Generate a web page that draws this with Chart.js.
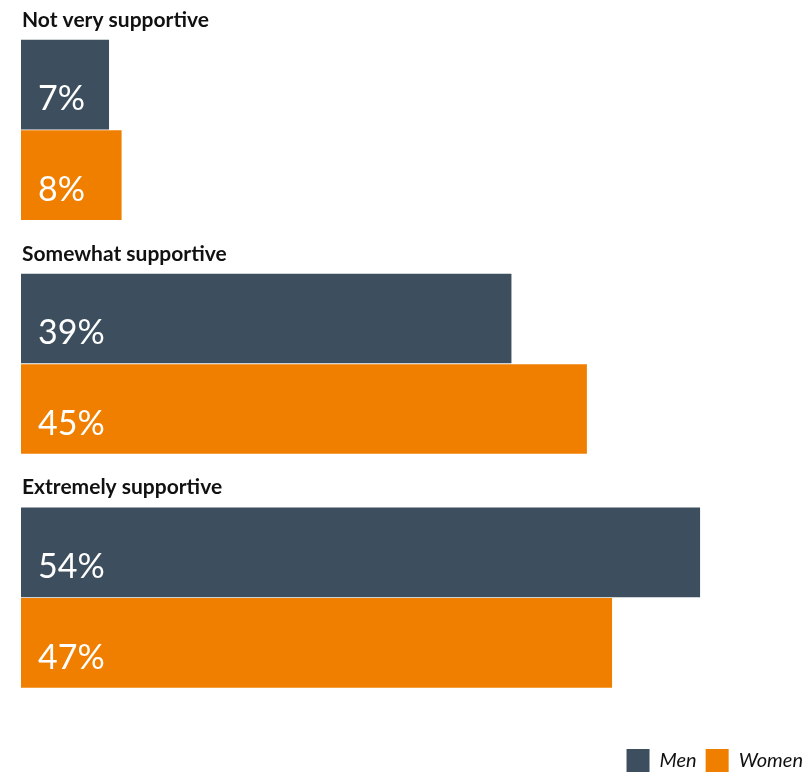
<!DOCTYPE html>
<html>
<head>
<meta charset="utf-8">
<script src="https://cdn.jsdelivr.net/npm/chart.js@4.4.1/dist/chart.umd.min.js"></script>
<style>
  html, body { margin: 0; padding: 0; background: #fff; overflow: hidden; }
  #wrap { position: relative; width: 812px; height: 782px; }
</style>
</head>
<body>
<div id="wrap"><canvas id="myChart"></canvas></div>
<script>
// Support levels, men vs women (%)
let categories = ['Not very supportive', 'Somewhat supportive', 'Extremely supportive'];
let menValues = [7, 39, 54];
let womenValues = [8, 45, 47];
let seriesNames = ['Men', 'Women'];
let seriesColors = ['#3d4f5e', '#f07f00'];

// draws the group title above each pair of bars and the value inside each bar
const barText = {
    id: 'barText',
    afterDatasetsDraw(chart) {
        const ctx = chart.ctx;
        const men = chart.getDatasetMeta(0).data;
        ctx.save();
        ctx.textAlign = 'left';
        ctx.textBaseline = 'alphabetic';

        ctx.fillStyle = '#111';
        ctx.font = 'bold 21px Lato';
        men.forEach((bar, i) => {
            const top = bar.y - bar.height / 2;
            ctx.fillText(chart.data.labels[i], chart.chartArea.left + 1, top - 13);
        });

        ctx.fillStyle = '#fff';
        ctx.font = '34px Lato';
        chart.data.datasets.forEach((ds, d) => {
            chart.getDatasetMeta(d).data.forEach((bar, i) => {
                const bottom = bar.y + bar.height / 2;
                ctx.fillText(ds.data[i] + '%', chart.chartArea.left + 17, bottom - 19);
            });
        });
        ctx.restore();
    }
};

let ctx = document.getElementById('myChart').getContext('2d');

let chart = new Chart(ctx, {
    type: 'bar',
    data: {
        labels: categories,
        datasets: [
            {
                label: seriesNames[0],
                data: menValues,
                backgroundColor: seriesColors[0]
            },
            {
                label: seriesNames[1],
                data: womenValues,
                backgroundColor: seriesColors[1]
            }
        ]
    },
    options: {
        indexAxis: 'y',
        responsive: true,
        maintainAspectRatio: false,
        animation: false,
        categoryPercentage: 0.7745,
        barPercentage: 0.99,
        layout: {
            padding: { top: 13, left: 21, right: 0, bottom: 0 }
        },
        scales: {
            x: {
                min: 0,
                max: 62.9,
                grid: { display: false },
                border: { display: false },
                ticks: { display: false },
                afterFit(scale) { scale.height = 25.5; }
            },
            y: {
                display: false
            }
        },
        plugins: {
            legend: {
                position: 'bottom',
                align: 'end',
                labels: {
                    boxWidth: 23,
                    boxHeight: 23,
                    padding: 9,
                    color: '#111',
                    font: { family: 'Lato', size: 20, style: 'italic' }
                }
            },
            tooltip: { enabled: false }
        }
    },
    plugins: [barText]
});
</script>
</body>
</html>
